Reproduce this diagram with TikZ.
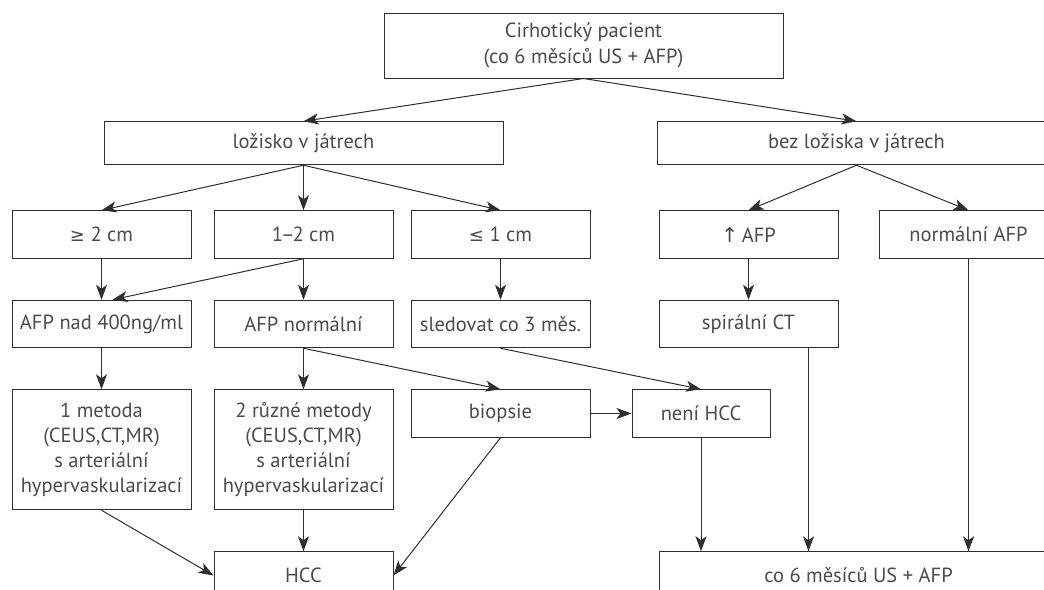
\documentclass[tikz,border=0pt]{standalone}
\usepackage{fontspec}
\setmainfont{PT Sans}
\newfontfamily\symfont{DejaVu Sans}
\usepackage{tikz}
\usetikzlibrary{arrows.meta, positioning}

\definecolor{linegray}{HTML}{2E2E2E}
\definecolor{textgray}{HTML}{4A4A4A}

\begin{document}
\begin{tikzpicture}[x=1pt, y=-1pt, node distance=41pt,
    >={Stealth[length=15pt, width=11pt, inset=4pt]},
    line width=1pt, draw=linegray,
    box/.style={draw=linegray, line width=1pt, inner sep=0pt, align=center,
        text=textgray, font=\fontsize{20.5}{25}\selectfont,
        minimum width=179pt, minimum height=47.5pt},
    widebox/.style={box, minimum width=399pt}]
    \useasboundingbox (0,0) rectangle (1044,589);
    \clip (0,0) rectangle (1044,589);

    \node (T) [widebox, minimum height=65pt] at (583.5,45.5) {Cirhotický pacient\\[1pt](co 6 měsíců US + AFP)};

    \node (A) [box] at (101.5,234.5) {{\symfont\fontsize{18}{25}\selectfont ≥} 2 cm};
    \node (B) [box, right=22pt of A] {1\kern-2pt–\kern-2pt2 cm};
    \node (C) [box, right=17pt of B] {{\symfont\fontsize{18}{25}\selectfont ≤} 1 cm};
    \node (D) [box, right=68pt of C] {{\symfont\char"2191}\,AFP};
    \node (E) [box, right=40pt of D] {normální AFP};

    \node (L) [widebox, minimum height=43pt, above=45pt of B] {ložisko v játrech};
    \node (Q) [widebox, minimum height=43pt, right=153pt of L] {bez ložiska v játrech};
    \draw[->] (T.south) -- (L.north);
    \draw[->] (T.south) -- (Q.north);
    \draw[->] (L.south) -- (A.north);
    \draw[->] (L.south) -- (B.north);
    \draw[->] (L.south) -- (C.north);
    \draw[->] (Q.south) -- (D.north);
    \draw[->] (Q.south) -- (E.north);

    \node (F) [box, below=of A] {AFP nad 400ng/ml};
    \node (G) [box, below=of B] {AFP normální};
    \node (H) [box, below=of C] {sledovat co 3 měs.};
    \node (I) [box, below=of D] {spirální CT};
    \draw[->] (A.south) -- (F.north);
    \draw[->] (B.south) -- ([xshift=11pt]F.north);
    \draw[->] (B.south) -- (G.north);
    \draw[->] (C.south) -- (H.north);
    \draw[->] (D.south) -- (I.north);

    \node (J) [box, minimum height=120pt, below=of F] {1 metoda\\(CEUS,CT,MR)\\s arteriální\\hypervaskularizací};
    \node (K) [box, minimum height=120pt, below=of G] {2 různé metody\\(CEUS,CT,MR)\\s arteriální\\hypervaskularizací};
    \node (M) [box, below=of H] {biopsie};
    \node (N) [box, minimum width=138pt, right=of M] {není HCC};
    \draw[->] (F.south) -- (J.north);
    \draw[->] (G.south) -- (K.north);
    \draw[->] (G.south) -- (M.north);
    \draw[->] (H.south) -- (N.north);
    \draw[->] (M.east) -- (N.west);

    \node (O) [box, below=of K] {HCC};
    \node (P) [widebox, anchor=north west] at (I.west |- O.north) {co 6 měsíců US + AFP};
    \draw[->] (J.south) -- (O.west);
    \draw[->] (K.south) -- (O.north);
    \draw[->] (M.south) -- (O.east);

    \coordinate (s) at ([xshift=60pt]I.south);
    \draw[->] (N.south) -- (N.south |- P.north);
    \draw[->] (s) -- (s |- P.north);
    \draw[->] (E.south) -- (E.south |- P.north);
\end{tikzpicture}
\end{document}
